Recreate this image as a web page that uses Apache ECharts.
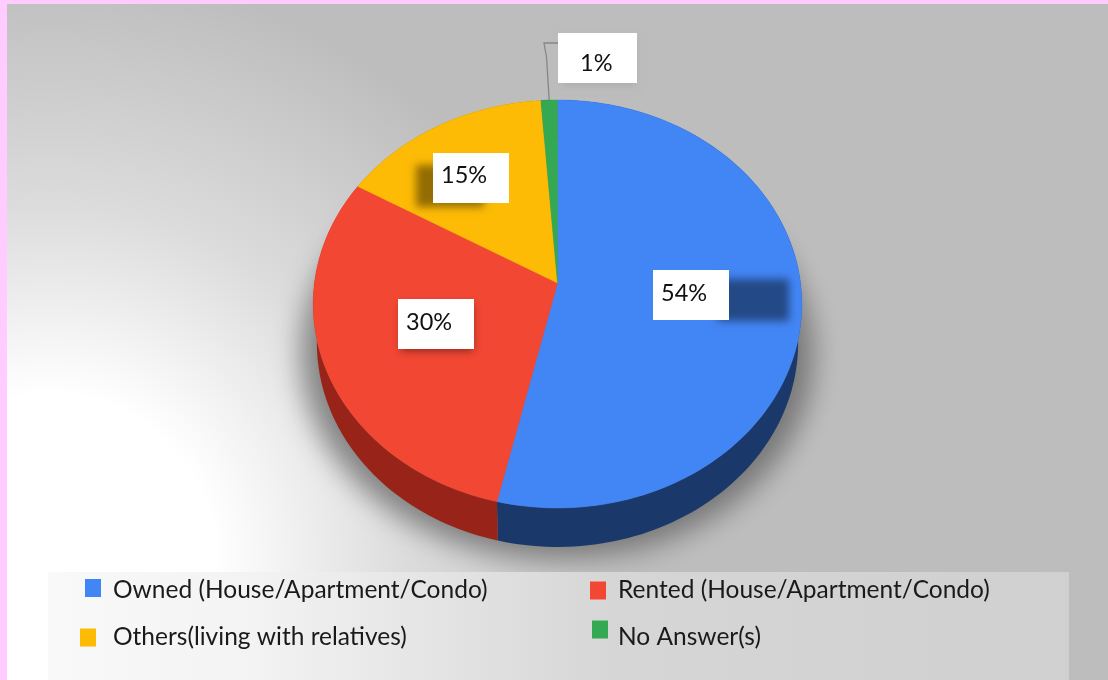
<!DOCTYPE html>
<html>
<head>
<meta charset="utf-8">
<style>html,body{margin:0;padding:0;background:#FFCCFF}#c{width:1108px;height:680px}</style>
<script src="https://cdn.jsdelivr.net/npm/echarts@6/dist/echarts.min.js"></script>
</head>
<body>
<div id="c"></div>
<script>
// Data, clockwise from the top of the pie
const categories = ['Owned (House/Apartment/Condo)', 'Rented (House/Apartment/Condo)', 'Others(living with relatives)', 'No Answer(s)'];
const values = [53.6, 29.8, 15.4, 1.2];
const colors = ['#4285F5', '#F24733', '#FDBB05', '#34A853'];
const wallColors = ['#1A3869', '#982318', '#8a6500', '#1c5c2d'];

// Layout (style only)
const APEX = {x: 557.5, y: 283}, W = 243, H = 201.8, K = 0.1029, DEPTH = 39, WALL_X = 0.985;
const boxes = [[653, 270], [398, 299], [433, 153], [558, 33]];
const textAt = [[661, 293], [406, 322], [441, 175], [580, 63]];
const boxShadows = [[718, 279, 71, 42], [401, 304, 72, 47], [416, 165, 68, 42], [562, 38, 74, 48]];
const shadowAlpha = [0.45, 0.42, 0.42, 0.08];
// left, top, gap from marker to text, offset of text line below the marker centre
const legendPos = [[85, 573, 12, 5], [590, 578, 12, 0], [80, 625, 17, 0], [592, 609, 10, 16]];

const total = values.reduce((a, b) => a + b, 0);
function proj(frac, wall) {
  const t = frac * 2 * Math.PI, u = Math.sin(t), v = Math.cos(t), s = 1 / (1 + K * v);
  return wall
    ? [APEX.x + W * u * s * WALL_X, APEX.y - H * v * s + DEPTH]
    : [APEX.x + W * u * s, APEX.y - H * v * s];
}
function arc(a, b, wall) {
  const n = Math.max(4, Math.ceil((b - a) * 240)), pts = [];
  for (let i = 0; i <= n; i++) pts.push(proj(a + (b - a) * i / n, wall));
  return pts;
}
function render(idx) {
  return function () {
    let a = 0;
    for (let i = 0; i < idx; i++) a += values[i] / total;
    const b = a + values[idx] / total;
    const top = arc(a, b, false), low = arc(a, b, true).reverse();
    const kids = [
      {type: 'polygon', z2: 1, shape: {points: top.concat(low)}, style: {fill: wallColors[idx]}},
      {type: 'polygon', z2: 2, shape: {points: [[APEX.x, APEX.y]].concat(top)}, style: {fill: colors[idx], stroke: colors[idx], lineWidth: 0.5}}
    ];
    const sh = boxShadows[idx], bx = boxes[idx], tx = textAt[idx];
    kids.push({type: 'rect', z2: 5, shape: {x: sh[0] - 3000, y: sh[1], width: sh[2], height: sh[3]},
      style: {fill: '#000', shadowBlur: 8, shadowOffsetX: 3000, shadowColor: 'rgba(0,0,0,' + shadowAlpha[idx] + ')'}});
    kids.push({type: 'rect', z2: 6, shape: {x: bx[0], y: bx[1], width: idx === 3 ? 79 : 76, height: 50}, style: {fill: '#fff'}});
    kids.push({type: 'text', z2: 7, style: {text: Math.round(values[idx]) + '%', x: tx[0], y: tx[1],
      font: '23.5px Lato', fill: '#111', verticalAlign: 'middle'}});
    if (idx === 3) {
      const p = proj(a + (b - a) / 2, false);
      kids.push({type: 'polyline', z2: 4, shape: {points: [[p[0], p[1]], [546.5, 57], [544, 43], [558, 43]]},
        style: {stroke: '#868686', lineWidth: 1.3, fill: null}});
    }
    return {type: 'group', children: kids};
  };
}

const option = {
  backgroundColor: '#FFCCFF',
  animation: false,
  graphic: [
    {type: 'rect', z: -10, shape: {x: 7, y: 4, width: 1101, height: 676},
      style: {fill: {type: 'radial', x: 50, y: 560, r: 590, global: true, colorStops: [
        {offset: 0, color: '#ffffff'}, {offset: 0.28, color: '#ffffff'}, {offset: 0.6, color: '#dcdcdc'}, {offset: 1, color: '#bdbdbd'}]}}},
    {type: 'ellipse', z: -9, shape: {cx: 557 - 3000, cy: 355, rx: 256, ry: 204},
      style: {fill: '#000', shadowBlur: 28, shadowOffsetX: 3000, shadowColor: 'rgba(80,80,80,0.65)'}},
    {type: 'rect', z: -8, shape: {x: 48, y: 572, width: 1021, height: 108},
      style: {fill: {type: 'linear', x: 48, y: 0, x2: 1069, y2: 0, global: true, colorStops: [
        {offset: 0, color: '#f9f9f9'}, {offset: 0.2, color: '#f3f3f3'}, {offset: 0.55, color: '#d6d6d6'}, {offset: 1, color: '#d0d0d0'}]}}}
  ],
  legend: categories.map((c, i) => ({
    data: [c], left: legendPos[i][0], top: legendPos[i][1], padding: 0,
    itemWidth: 16, itemHeight: 18, itemGap: 0, icon: 'rect', selectedMode: false,
    itemStyle: {color: colors[i]},
    formatter: legendPos[i][3] ? '\n{name}' : '{name}',
    textStyle: Object.assign({fontFamily: 'Lato', fontSize: 24.5, color: '#1a1a1a', padding: [0, 0, 0, legendPos[i][2] - 5]},
      legendPos[i][3] ? {lineHeight: legendPos[i][3]} : {})
  })),
  series: categories.map((c, i) => ({
    type: 'custom', name: c, coordinateSystem: 'none', silent: true,
    itemStyle: {color: colors[i]},
    data: [values[i]],
    renderItem: render(i)
  }))
};
echarts.init(document.getElementById('c')).setOption(option);
</script>
</body>
</html>
